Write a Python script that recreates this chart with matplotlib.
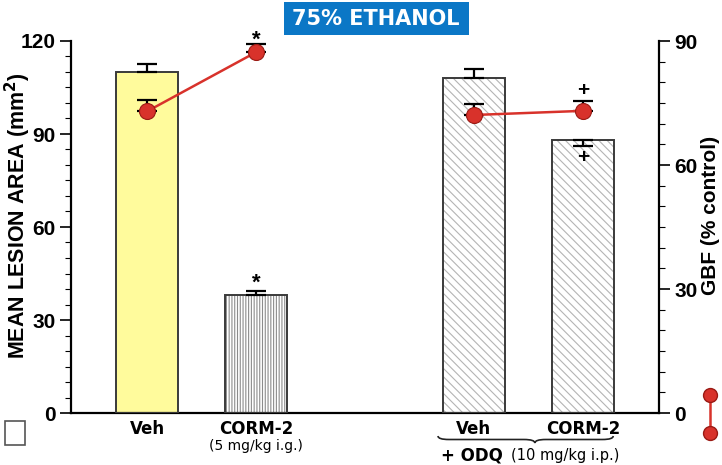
import matplotlib.pyplot as plt
import numpy as np
from matplotlib.patches import Rectangle, PathPatch
from matplotlib.path import Path
from matplotlib.lines import Line2D
import matplotlib.transforms as mtransforms

plt.rcParams['font.family'] = ['Liberation Sans', 'DejaVu Sans']
plt.rcParams['hatch.linewidth'] = 0.8

# data
groups = ['Veh', 'CORM-2', 'Veh', 'CORM-2']
xpos = [0, 1, 3, 4]
lesion = [110, 38, 108, 88]
lesion_err_up = [2.5, 1.5, 3.0, 0]
lesion_err_dn = [0, 0, 0, 2.0]
gbf = [73.0, 87.3, 72.1, 73.1]
gbf_err = [2.7, 2.0, 2.7, 2.4]

fig = plt.figure(figsize=(7.22, 4.65), dpi=100)
ax = fig.add_axes([71/722, 1-413/465, 588/722, 372/465])
ax2 = ax.twinx()

fills = ['#fffb9c', 'white', 'white', 'white']
hatches = [None, '||||||', '\\\\\\\\', '\\\\\\\\']
hcols = [None, '#8c8c8c', '#b4b4b4', '#b4b4b4']
for x, v, fc, h, hc in zip(xpos, lesion, fills, hatches, hcols):
    ax.bar(x, v, width=0.57, color=fc, edgecolor=hc if h else fc,
           hatch=h, linewidth=0, zorder=2)
    ax.bar(x, v, width=0.57, fill=False, edgecolor='#3a3a3a', linewidth=1.4, zorder=3)
ax.errorbar(xpos, lesion, yerr=[lesion_err_dn, lesion_err_up], fmt='none',
            ecolor='black', elinewidth=1.6, capsize=7, capthick=1.6, zorder=4)

ax.set_xlim(-0.7, 4.7)
ax.set_ylim(0, 120)
ax.set_yticks([0, 30, 60, 90, 120])
ax.set_yticks(np.arange(0, 121, 5), minor=True)
ax.set_xticks(xpos, groups)
ax.tick_params(axis='x', length=0, pad=5, labelsize=12)
for lab in ax.get_xticklabels():
    lab.set_fontweight('bold')
    lab.set_family(['DejaVu Sans'])
ax.tick_params(axis='y', which='major', length=8, width=1.2, labelsize=15, pad=3)
ax.tick_params(axis='y', which='minor', length=4, width=0.8)
for lab in ax.get_yticklabels():
    lab.set_fontweight('bold')
ax.spines['top'].set_visible(False)
ax.spines['left'].set_linewidth(1.6)
ax.spines['bottom'].set_linewidth(1.6)
ax.spines['right'].set_visible(False)
ax.set_ylabel('MEAN LESION AREA (mm$^\\mathbf{2}$)', fontsize=15.5, fontweight='bold')
ax.yaxis.set_label_coords(-0.064, 0.53)

# GBF on right axis
ax2.plot(xpos[:2], gbf[:2], color='#d8322b', lw=1.8, zorder=5)
ax2.plot(xpos[2:], gbf[2:], color='#d8322b', lw=1.8, zorder=5)
ax2.errorbar(xpos, gbf, yerr=[[0]*4, gbf_err], fmt='none', ecolor='black',
             elinewidth=1.6, capsize=7, capthick=1.6, zorder=4)
ax2.plot(xpos, gbf, 'o', ls='none', color='#d8322b', mec='#9a1a14', mew=0.8,
         markersize=11.5, zorder=6)
ax2.set_ylim(0, 90)
ax2.set_yticks([0, 30, 60, 90])
ax2.set_yticks(np.arange(0, 91, 5), minor=True)
ax2.tick_params(axis='y', which='major', length=8, width=1.2, labelsize=15, pad=3)
ax2.tick_params(axis='y', which='minor', length=4, width=0.8)
for lab in ax2.get_yticklabels():
    lab.set_fontweight('bold')
for s in ['top', 'left', 'bottom']:
    ax2.spines[s].set_visible(False)
ax2.spines['right'].set_linewidth(1.6)
ax2.set_ylabel('GBF (% control)', fontsize=15, fontweight='bold')
ax2.yaxis.set_label_coords(1.071, 0.53)

# significance marks
ax2.text(1, 90.3, '*', ha='center', va='center', fontsize=16, fontweight='bold')
ax.text(1, 42.0, '*', ha='center', va='center', fontsize=16, fontweight='bold')
ax2.text(4, 78.0, '+', ha='center', va='center', fontsize=15, fontweight='bold')
ax.text(4, 82.3, '+', ha='center', va='center', fontsize=15, fontweight='bold')

# sub labels below axis
tr = mtransforms.blended_transform_factory(ax.transData, fig.transFigure)
ax.text(1, 1-446/465, '(5 mg/kg i.g.)', transform=tr, ha='center', va='center',
        fontsize=10, family=['DejaVu Sans'])
ax.text(2.98, 1-455/465, '+ ODQ', transform=tr, ha='center', va='center',
        fontsize=12, fontweight='bold', family=['DejaVu Sans'])
ax.text(3.84, 1-455/465, '(10 mg/kg i.p.)', transform=tr, ha='center', va='center',
        fontsize=10.5, family=['DejaVu Sans'])

# curly brace under the ODQ group
x0, x1, xm = 2.67, 4.28, 3.56
yt, yb = 1-436/465, 1-443/465
ym = (yt + yb) / 2
verts = [(x0, yt),
         (x0, ym), (x0 + 0.1, ym),
         (xm - 0.1, ym),
         (xm, ym), (xm, yb),
         (xm, ym), (xm + 0.1, ym),
         (x1 - 0.1, ym),
         (x1, ym), (x1, yt)]
codes = [Path.MOVETO,
         Path.CURVE3, Path.CURVE3,
         Path.LINETO,
         Path.CURVE3, Path.CURVE3,
         Path.CURVE3, Path.CURVE3,
         Path.LINETO,
         Path.CURVE3, Path.CURVE3]
ax.add_patch(PathPatch(Path(verts, codes), transform=tr, fill=False,
                       edgecolor='#222222', lw=1.2, clip_on=False))

# title box
fig.patches.append(Rectangle((284/722, 1-35/465), 185/722, 33/465,
                             transform=fig.transFigure, facecolor='#0b77c6',
                             edgecolor='none'))
fig.text(376/722, 1-19/465, '75% ETHANOL', ha='center', va='center',
         color='white', fontsize=15, fontweight='bold', family=['DejaVu Sans'])

# legend symbols
fig.patches.append(Rectangle((5/722, 1-445/465), 20/722, 24/465,
                             transform=fig.transFigure, facecolor='white',
                             edgecolor='#555555', lw=1.2))
fig.lines.append(Line2D([710/722, 710/722], [1-395/465, 1-433/465],
                        transform=fig.transFigure, color='#d8322b', lw=1.8,
                        marker='o', markersize=10, mfc='#d8322b', mec='#9a1a14'))

fig.savefig('out.png', dpi=100)
